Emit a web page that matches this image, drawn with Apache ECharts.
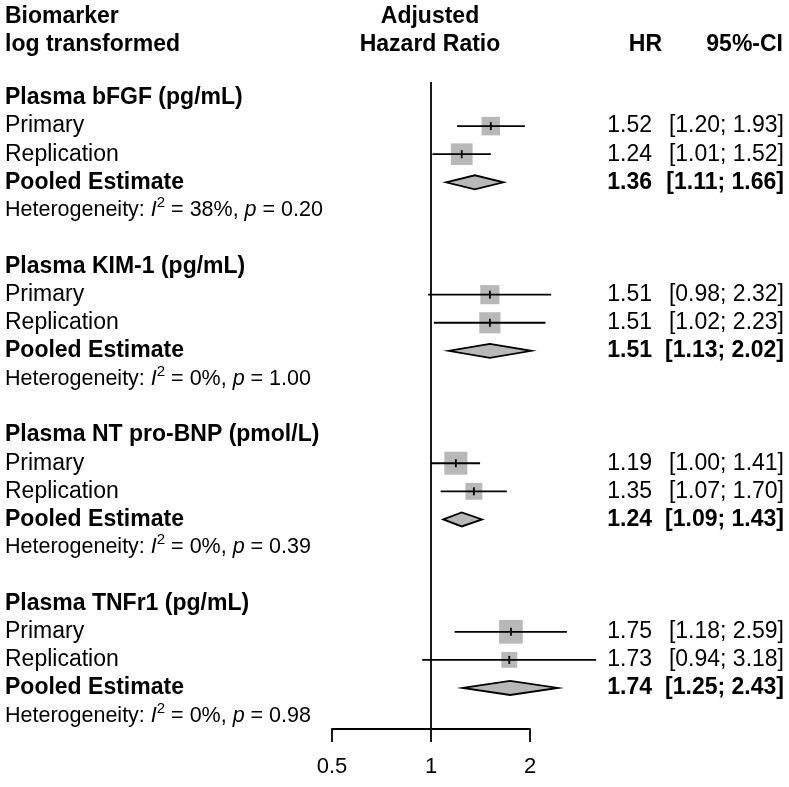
<!DOCTYPE html>
<html>
<head>
<meta charset="utf-8">
<script src="https://cdn.jsdelivr.net/npm/echarts@6/dist/echarts.min.js"></script>
<style>
  html, body { margin: 0; padding: 0; background: #fff; }
  #main { width: 789px; height: 787px; }
</style>
</head>
<body>
<div id="main"></div>
<script>
  // data
  var groups = ['Plasma bFGF (pg/mL)', 'Plasma KIM-1 (pg/mL)', 'Plasma NT pro-BNP (pmol/L)', 'Plasma TNFr1 (pg/mL)'];
  var studyLabels = ['Primary', 'Replication'];
  var hr = [[1.52, 1.24], [1.51, 1.51], [1.19, 1.35], [1.75, 1.73]];
  var lower = [[1.20, 1.01], [0.98, 1.02], [1.00, 1.07], [1.18, 0.94]];
  var upper = [[1.93, 1.52], [2.32, 2.23], [1.41, 1.70], [2.59, 3.18]];
  var weights = [[42, 58], [45, 55], [65, 35], [69, 31]];
  var pooledHR = [1.36, 1.51, 1.24, 1.74];
  var pooledLower = [1.11, 1.13, 1.09, 1.25];
  var pooledUpper = [1.66, 2.02, 1.43, 2.43];
  var hetI2 = [38, 0, 0, 0];
  var hetP = ['0.20', '1.00', '0.39', '0.98'];
  var xTicks = [0.5, 1, 2];

  var FONT = 'Liberation Sans, Arial, Helvetica, sans-serif';
  var GRAY = '#b8b8b8';
  var LW = 1.8;

  // one row per line of the plot
  var rows = [];
  var marks = [];
  groups.forEach(function (g, k) {
    var base = k * 6;
    rows.push({ r: base, label: g, bold: true });
    for (var j = 0; j < 2; j++) {
      rows.push({
        r: base + 1 + j, label: studyLabels[j],
        hr: hr[k][j].toFixed(2),
        ci: '[' + lower[k][j].toFixed(2) + '; ' + upper[k][j].toFixed(2) + ']'
      });
      marks.push([base + 1 + j, hr[k][j], lower[k][j], upper[k][j], weights[k][j], 0]);
    }
    rows.push({
      r: base + 3, label: 'Pooled Estimate', bold: true,
      hr: pooledHR[k].toFixed(2),
      ci: '[' + pooledLower[k].toFixed(2) + '; ' + pooledUpper[k].toFixed(2) + ']'
    });
    marks.push([base + 3, pooledHR[k], pooledLower[k], pooledUpper[k], 0, 1]);
    rows.push({ r: base + 4, het: true, i2: hetI2[k], p: hetP[k] });
  });

  var myChart = echarts.init(document.getElementById('main'));

  function renderMark(params, api) {
    var row = api.value(0);
    var est = api.coord([api.value(1), row]);
    var lo = api.coord([api.value(2), row]);
    var hi = api.coord([api.value(3), row]);
    var y = est[1];
    if (api.value(5) === 1) {
      var h = 7;
      return {
        type: 'polygon',
        shape: { points: [[lo[0], y], [est[0], y - h], [hi[0], y], [est[0], y + h]] },
        style: { fill: GRAY, stroke: '#000', lineWidth: LW }
      };
    }
    var s = 2.85 * Math.sqrt(api.value(4));
    return {
      type: 'group',
      children: [
        { type: 'rect', shape: { x: est[0] - s / 2, y: y - s / 2, width: s, height: s }, style: { fill: GRAY } },
        { type: 'line', shape: { x1: lo[0], y1: y, x2: hi[0], y2: y }, style: { stroke: '#000', lineWidth: LW } },
        { type: 'line', shape: { x1: est[0], y1: y - 4, x2: est[0], y2: y + 4 }, style: { stroke: '#000', lineWidth: LW } }
      ]
    };
  }

  function renderText(params, api) {
    var d = rows[params.dataIndex];
    var y = api.coord([1, api.value(1)])[1];
    var w = d.bold ? 'bold' : 'normal';
    var kids = [];
    if (d.het) {
      kids.push({
        type: 'text', x: 5, y: y,
        style: {
          text: '{n|Heterogeneity: }{i|I}{s|2}{n| = ' + d.i2 + '%, }{i|p}{n| = ' + d.p + '}',
          verticalAlign: 'middle', align: 'left',
          rich: {
            n: { fontSize: 21.5, fontFamily: FONT, fill: '#000', lineHeight: 30 },
            i: { fontSize: 21.5, fontFamily: FONT, fontStyle: 'italic', fill: '#000', lineHeight: 30 },
            s: { fontSize: 15, fontFamily: FONT, fill: '#000', verticalAlign: 'top', lineHeight: 15 }
          }
        }
      });
    } else {
      kids.push({ type: 'text', x: 5, y: y, style: { text: d.label, fontSize: 23, fontWeight: w, fontFamily: FONT, fill: '#000', align: 'left', verticalAlign: 'middle' } });
    }
    if (d.hr) {
      kids.push({ type: 'text', x: 652, y: y, style: { text: d.hr, fontSize: 23, fontWeight: w, fontFamily: FONT, fill: '#000', align: 'right', verticalAlign: 'middle' } });
      kids.push({ type: 'text', x: 784, y: y, style: { text: d.ci, fontSize: 23, fontWeight: w, fontFamily: FONT, fill: '#000', align: 'right', verticalAlign: 'middle' } });
    }
    return { type: 'group', children: kids };
  }

  function header(text, x, y, align) {
    return { type: 'text', x: x, y: y, style: { text: text, fontSize: 23, fontWeight: 'bold', fontFamily: FONT, fill: '#000', align: align, verticalAlign: 'middle' } };
  }

  var option = {
    animation: false,
    backgroundColor: '#fff',
    grid: { left: 332, right: 259, top: 82, bottom: 58 },
    xAxis: {
      type: 'log',
      logBase: 2,
      min: 0.5,
      max: 2,
      axisLine: { show: true, onZero: false, lineStyle: { color: '#000', width: LW } },
      axisTick: { show: true, inside: false, length: 13, customValues: xTicks, lineStyle: { color: '#000', width: LW } },
      axisLabel: {
        customValues: xTicks, margin: 27, fontSize: 22, fontFamily: FONT, color: '#000',
        formatter: function (v) { return String(v); }
      },
      splitLine: { show: false }
    },
    yAxis: { type: 'value', inverse: true, min: -0.57, max: 22.46, show: false },
    graphic: [
      header('Biomarker', 5, 17, 'left'),
      header('log transformed', 5, 45, 'left'),
      header('Adjusted', 430, 17, 'center'),
      header('Hazard Ratio', 430, 45, 'center'),
      header('HR', 662, 45, 'right'),
      header('95%-CI', 783, 45, 'right')
    ],
    series: [
      {
        type: 'line',
        data: [[1, -0.57], [1, 22.46]],
        symbol: 'none',
        lineStyle: { color: '#000', width: LW },
        silent: true
      },
      {
        type: 'custom',
        clip: false,
        renderItem: renderMark,
        data: marks,
        encode: { x: 1, y: 0 }
      },
      {
        type: 'custom',
        clip: false,
        renderItem: renderText,
        data: rows.map(function (d) { return [1, d.r]; })
      }
    ]
  };

  myChart.setOption(option);
</script>
</body>
</html>
